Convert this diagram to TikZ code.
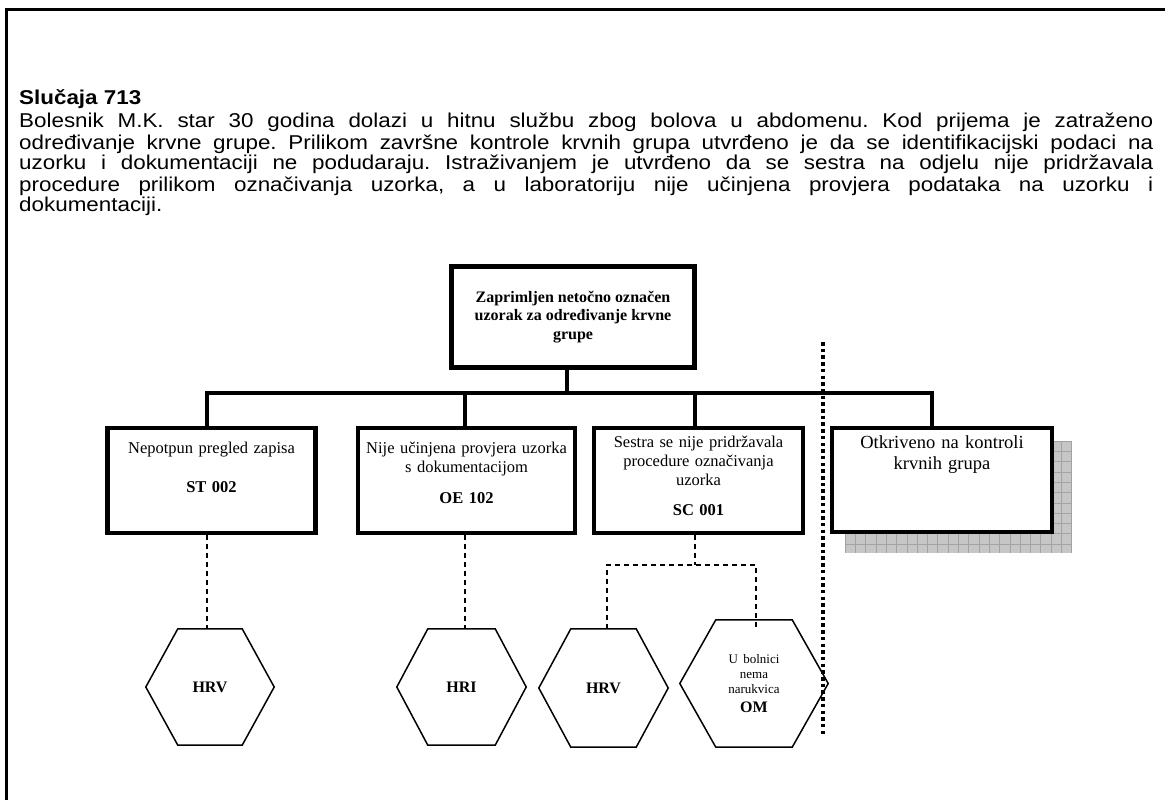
\documentclass[tikz,border=0pt]{standalone}
\usepackage{fontspec}
\setmainfont{Liberation Serif}
\newfontfamily\bodyfont[FakeStretch=1.12]{Liberation Sans}
\usetikzlibrary{calc}
\tikzset{
  frameline/.style={line width=3pt},
  boxtxt/.style={inner sep=0pt, align=center, font=\fontsize{16.5}{19}\selectfont},
  bigbox/.style={draw, line width=4.5pt, fill=white, minimum height=105pt, inner sep=0pt},
  topbox/.style={draw, line width=5pt, fill=white, minimum width=243pt, minimum height=101pt,
    inner sep=0pt, align=center, font=\bfseries\fontsize{16}{18.5}\selectfont},
  busline/.style={line width=4pt, line join=miter},
  dashline/.style={line width=1.6pt, dash pattern=on 5pt off 4pt},
  dotline/.style={line width=4pt, dash pattern=on 3.5pt off 3.2pt},
  hexnode/.style={inner sep=0pt, align=center, font=\bfseries\fontsize{16}{18}\selectfont},
  hexline/.style={line width=1.5pt, line join=miter},
  shadowfill/.style={fill=gray!45},
  shadowgrid/.style={draw=gray!72, line width=0.6pt}
}
\newcommand\hexdraw[2]{\draw[hexline] (#1.west) -- ([xshift=#2]#1.north west) -- ([xshift=-#2]#1.north east) -- (#1.east) -- ([xshift=-#2]#1.south east) -- ([xshift=#2]#1.south west) -- cycle;}
\newcommand\jline[1]{\leavevmode\hbox to 1134pt{\frenchspacing\spaceskip=0pt\xspaceskip=0pt #1}}
\begin{document}
\begin{tikzpicture}[x=1pt,y=-1pt]
\useasboundingbox (0,0) rectangle (1165,800);
% frame
\draw[frameline] (6,802) -- (6,10) -- (1167,10);
% text
\node[anchor=base west, inner sep=0pt, font={\bodyfont\fontsize{20}{21}\selectfont\bfseries}] (head) at (19,104) {Slučaja 713};
\node[anchor=base west, inner sep=0pt, text width=1134pt, align=left, font={\bodyfont\fontsize{20}{21}\selectfont}] (body) at (19,128) {%
\jline{Bolesnik M.K. star 30 godina dolazi u hitnu službu zbog bolova u abdomenu. Kod prijema je zatraženo}\\
\jline{određivanje krvne grupe. Prilikom završne kontrole krvnih grupa utvrđeno je da se identifikacijski podaci na}\\
\jline{uzorku i dokumentaciji ne podudaraju. Istraživanjem je utvrđeno da se sestra na odjelu nije pridržavala}\\
\jline{procedure prilikom označivanja uzorka, a u laboratoriju nije učinjena provjera podataka na uzorku i}\\
dokumentaciji.};
% top box
\node[topbox] (top) at (573,317) {Zaprimljen netočno označen\\uzorak za određivanje krvne\\grupe};
% shadow of box 4
\fill[shadowfill] (845,441) rectangle (1072,553);
\foreach \gx in {845,855.3,...,1072} {\draw[shadowgrid] (\gx,441) -- (\gx,553);}
\foreach \gy in {441,451.3,...,553} {\draw[shadowgrid] (845,\gy) -- (1072,\gy);}
% boxes
\node[bigbox, minimum width=208pt] (b1) at (211.5,480.5) {};
\node[bigbox, minimum width=217pt] (b2) at (466.5,480.5) {};
\node[bigbox, minimum width=209pt] (b3) at (698.5,480.5) {};
\node[bigbox, minimum width=220pt, minimum height=104pt] (b4) at (942,480) {};
\node[boxtxt, anchor=base, text width=200pt] (b1t) at (211.5,453) {Nepotpun pregled zapisa\\[20pt]\textbf{ST 002}};
\node[boxtxt, anchor=base, text width=214pt] (b2t) at (466.5,453) {Nije učinjena provjera uzorka\\s dokumentacijom\\[12pt]\textbf{OE 102}};
\node[boxtxt, anchor=base, text width=200pt] (b3t) at (698.5,447) {Sestra se nije pridržavala\\procedure označivanja\\uzorka\\[11pt]\textbf{SC 001}};
\node[boxtxt, anchor=base, text width=212pt, font=\fontsize{18.5}{21}\selectfont] (b4t) at (942,448) {Otkriveno na kontroli\\krvnih grupa};
% bus
\coordinate (t0) at (567,393);
\coordinate (d1) at (207,393);
\coordinate (d2) at (465,393);
\coordinate (d3) at (695,393);
\coordinate (d4) at (932,393);
\draw[busline] (t0 |- top.south) -- (t0);
\draw[busline] (d1 |- b1.north) -- (d1) -- (d4) -- (d4 |- b4.north);
\draw[busline] (d2) -- (d2 |- b2.north);
\draw[busline] (d3) -- (d3 |- b3.north);
% hexagons
\node[hexnode, minimum width=128pt, minimum height=116pt] (h1) at (210,687) {HRV};
\node[hexnode, minimum width=129pt, minimum height=116pt] (h2) at (461.5,687) {HRI};
\node[hexnode, minimum width=129pt, minimum height=118pt] (h3) at (603.5,688) {HRV};
\node[hexnode, minimum width=148pt, minimum height=127pt, text width=100pt] (h4) at (754,683.5) {\mdseries\fontsize{13}{15}\selectfont U bolnici\\nema\\narukvica\\[1pt]\bfseries\fontsize{16}{18}\selectfont OM};
\hexdraw{h1}{32pt}
\hexdraw{h2}{31pt}
\hexdraw{h3}{32pt}
\hexdraw{h4}{36pt}
% dashed connectors
\coordinate (jl) at (607,565);
\coordinate (jr) at (756,565);
\coordinate (jend) at (756,629);
\draw[dashline] (d1 |- b1.south) -- (d1 |- h1.north);
\draw[dashline] (d2 |- b2.south) -- (d2 |- h2.north);
\draw[dashline] (d3 |- b3.south) -- (d3 |- jl);
\draw[dashline] (jl |- h3.north) -- (jl) -- (jr) -- (jend);
% dotted separator
\coordinate (dtop) at (823,342);
\coordinate (dbot) at (823,735);
\draw[dotline] (dtop) -- (dbot);
\end{tikzpicture}
\end{document}
